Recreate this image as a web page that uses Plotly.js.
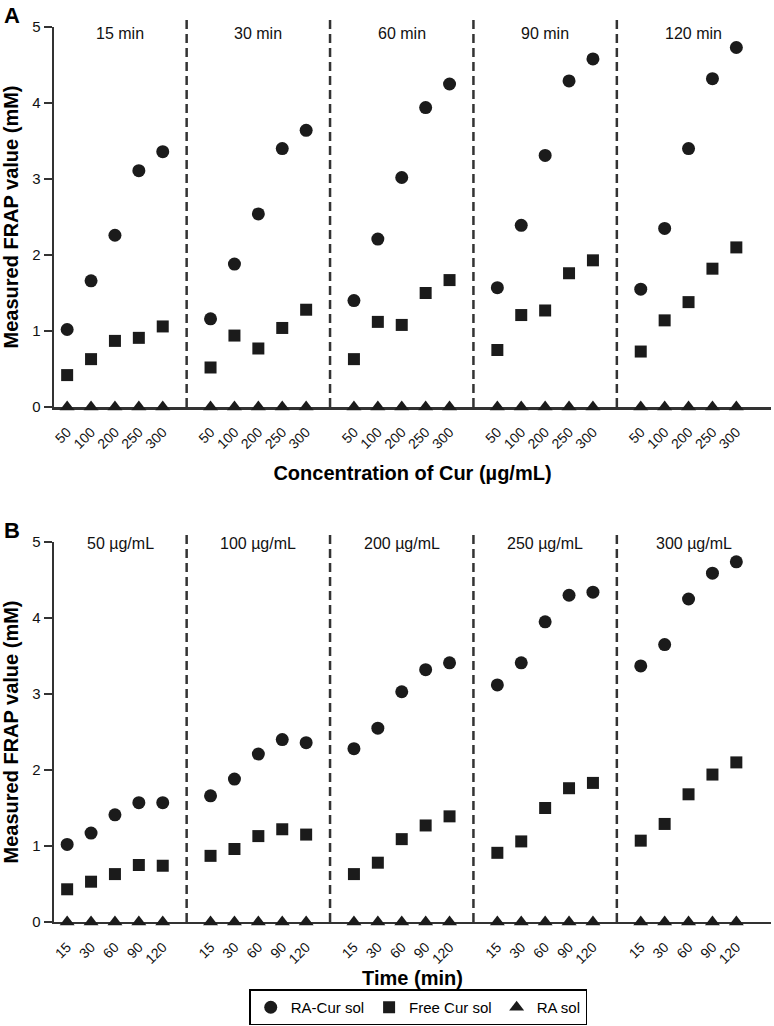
<!DOCTYPE html>
<html><head><meta charset="utf-8">
<script src="https://cdn.plot.ly/plotly-3.0.1.min.js"></script>
<style>html,body{margin:0;padding:0;background:#fff}#chart{width:774px;height:1026px}</style>
</head><body><div id="chart"></div>
<script>
// ---- Data ----
const concLabels = ['50', '100', '200', '250', '300'];
const timeLabels = ['15', '30', '60', '90', '120'];
const panelAGroups = ['15 min', '30 min', '60 min', '90 min', '120 min'];
const panelBGroups = ['50 µg/mL', '100 µg/mL', '200 µg/mL', '250 µg/mL', '300 µg/mL'];

// Panel A: one row per time group, values across concentrations
const aRaCur = [
  [1.02, 1.66, 2.26, 3.11, 3.36],
  [1.16, 1.88, 2.54, 3.40, 3.64],
  [1.40, 2.21, 3.02, 3.94, 4.25],
  [1.57, 2.39, 3.31, 4.29, 4.58],
  [1.55, 2.35, 3.40, 4.32, 4.73]
];
const aFreeCur = [
  [0.42, 0.63, 0.87, 0.91, 1.06],
  [0.52, 0.94, 0.77, 1.04, 1.28],
  [0.63, 1.12, 1.08, 1.50, 1.67],
  [0.75, 1.21, 1.27, 1.76, 1.93],
  [0.73, 1.14, 1.38, 1.82, 2.10]
];
const aRaSol = [
  [0, 0, 0, 0, 0],
  [0, 0, 0, 0, 0],
  [0, 0, 0, 0, 0],
  [0, 0, 0, 0, 0],
  [0, 0, 0, 0, 0]
];

// Panel B: one row per concentration group, values across times
const bRaCur = [
  [1.02, 1.17, 1.41, 1.57, 1.57],
  [1.66, 1.88, 2.21, 2.40, 2.36],
  [2.28, 2.55, 3.03, 3.32, 3.41],
  [3.12, 3.41, 3.95, 4.30, 4.34],
  [3.37, 3.65, 4.25, 4.59, 4.74]
];
const bFreeCur = [
  [0.43, 0.53, 0.63, 0.75, 0.74],
  [0.87, 0.96, 1.13, 1.22, 1.15],
  [0.63, 0.78, 1.09, 1.27, 1.39],
  [0.91, 1.06, 1.50, 1.76, 1.83],
  [1.07, 1.29, 1.68, 1.94, 2.10]
];
const bRaSol = [
  [0, 0, 0, 0, 0],
  [0, 0, 0, 0, 0],
  [0, 0, 0, 0, 0],
  [0, 0, 0, 0, 0],
  [0, 0, 0, 0, 0]
];

const seriesNames = ['RA-Cur sol', 'Free Cur sol', 'RA sol'];

// ---- Helpers ----
const STEP = 6; // 5 points + 1 gap per group
function posOf(g, i) { return g * STEP + i; }
function flatPos(rows) { const p = []; rows.forEach((r, g) => r.forEach((v, i) => p.push(posOf(g, i)))); return p; }
function flatVals(rows) { return rows.flat(); }

const FONT = 'Liberation Sans, Arial, Helvetica, sans-serif';
const INK = '#1b1b1b';
const symbols = ['circle', 'square', 'triangle-up'];
const sizes = [13, 12, 13];

const traces = [];
[[aRaCur, aFreeCur, aRaSol], [bRaCur, bFreeCur, bRaSol]].forEach((set, p) => {
  set.forEach((rows, s) => {
    traces.push({
      type: 'scatter', mode: 'markers',
      x: flatPos(rows), y: flatVals(rows),
      xaxis: p === 0 ? 'x' : 'x2', yaxis: p === 0 ? 'y' : 'y2',
      name: seriesNames[s], showlegend: p === 0,
      cliponaxis: false,
      marker: { symbol: symbols[s], size: sizes[s], color: INK, line: { width: 0 } }
    });
  });
});

const nGroups = 5;
const xRange = [-0.55, 29.45];
const tickvals = []; const tickA = []; const tickB = [];
for (let g = 0; g < nGroups; g++) for (let i = 0; i < 5; i++) {
  tickvals.push(posOf(g, i)); tickA.push(concLabels[i]); tickB.push(timeLabels[i]);
}
const dividers = [];
for (let g = 0; g < nGroups - 1; g++) dividers.push(posOf(g, 5));
const bounds = [xRange[0], ...dividers, xRange[1]];

const shapes = []; const annotations = [];
['x', 'x2'].forEach((xa, p) => {
  const ya = p === 0 ? 'y' : 'y2';
  dividers.forEach(d => shapes.push({
    type: 'line', xref: xa, yref: ya + ' domain', x0: d, x1: d, y0: 0, y1: 1.024,
    line: { color: '#333', width: 2.5, dash: '9px,5px' }
  }));
  const labels = p === 0 ? panelAGroups : panelBGroups;
  labels.forEach((t, g) => annotations.push({
    xref: xa, yref: ya, x: (bounds[g] + bounds[g + 1]) / 2, y: p === 0 ? 4.91 : 4.98,
    text: t, showarrow: false, font: { family: FONT, size: 16, color: '#111' }
  }));
});
annotations.push({ xref: 'paper', yref: 'paper', x: -0.072, y: 0.9995, xanchor: 'left', yanchor: 'top',
  text: '<b>A</b>', showarrow: false, font: { family: FONT, size: 22, color: '#000' } });
annotations.push({ xref: 'paper', yref: 'paper', x: -0.072, y: 0.497, xanchor: 'left', yanchor: 'top',
  text: '<b>B</b>', showarrow: false, font: { family: FONT, size: 22, color: '#000' } });

function xAxis(ticktext, title, anchor, standoff) {
  return {
    domain: [0, 1], anchor: anchor, range: xRange, showgrid: false, zeroline: false,
    showline: true, linecolor: '#333', linewidth: 2.5, layer: 'below traces',
    tickmode: 'array', tickvals: tickvals, ticktext: ticktext, tickangle: -45,
    ticks: '', ticklabelstandoff: 9,
    tickfont: { family: FONT, size: 14, color: '#111' },
    title: { text: '<b>' + title + '</b>', font: { family: FONT, size: 20, color: '#000' }, standoff: standoff },
    automargin: false
  };
}
function yAxis(domain, anchor) {
  return {
    domain: domain, anchor: anchor, range: [0, 5], showgrid: false, zeroline: false,
    showline: true, linecolor: '#333', linewidth: 2.5, layer: 'below traces',
    ticks: 'outside', ticklen: 8, tickwidth: 2.5, tickcolor: '#333',
    tickvals: [0, 1, 2, 3, 4, 5],
    tickfont: { family: FONT, size: 15, color: '#111' },
    title: { text: '<b>Measured FRAP value (mM)</b>', font: { family: FONT, size: 20, color: '#000' }, standoff: 8 },
    automargin: false
  };
}

const layout = {
  width: 774, height: 1026,
  margin: { l: 54, r: 3, t: 0, b: 0 },
  paper_bgcolor: '#fff', plot_bgcolor: '#fff',
  font: { family: FONT, color: '#111' },
  xaxis: xAxis(tickA, 'Concentration of Cur (µg/mL)', 'y', 15),
  yaxis: yAxis([0.6033, 0.9737], 'x'),
  xaxis2: xAxis(tickB, 'Time (min)', 'y2', 2),
  yaxis2: yAxis([0.1014, 0.4717], 'x2'),
  shapes: shapes, annotations: annotations,
  showlegend: true,
  legend: {
    orientation: 'h', x: 0.508, xanchor: 'center', y: 0.0005, yanchor: 'bottom',
    bordercolor: '#000', borderwidth: 1.5, bgcolor: '#fff',
    font: { family: FONT, size: 15, color: '#000' }, itemwidth: 30, tracegroupgap: 0
  }
};

Plotly.newPlot('chart', traces, layout, { staticPlot: true, displayModeBar: false });
</script>
</body></html>
